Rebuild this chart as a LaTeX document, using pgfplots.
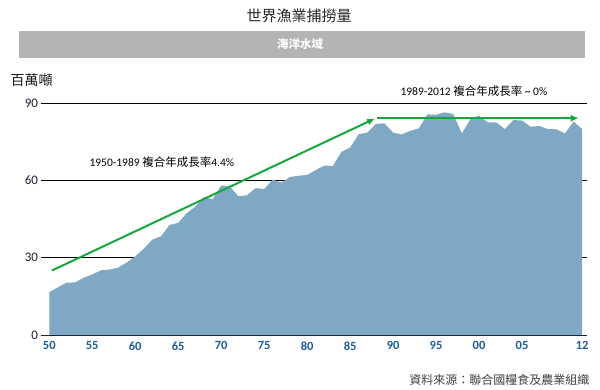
\documentclass[border=0pt]{standalone}
\usepackage{pgfplots}
\pgfplotsset{compat=1.18}
\usepackage{fontspec}
\setmainfont{Carlito}
\newfontfamily\cjk{Noto Sans CJK TC}
\usetikzlibrary{arrows.meta}
\definecolor{areablue}{HTML}{7EA8C4}
\definecolor{arrowgreen}{RGB}{20,168,60}
\definecolor{xlab}{HTML}{1F5C9E}
\definecolor{ylab}{HTML}{1C2535}
\definecolor{banner}{HTML}{B4B4B4}
\pgfplotstableread{
year value
1950 16.6
1951 18.5
1952 20.3
1953 20.4
1954 22.2
1955 23.5
1956 25.1
1957 25.4
1958 26.1
1959 28.1
1960 30.5
1961 33.5
1962 37.0
1963 38.3
1964 42.7
1965 43.5
1966 47.3
1967 49.8
1968 53.5
1969 52.6
1970 58.0
1971 57.6
1972 53.8
1973 54.2
1974 57.0
1975 56.6
1976 60.3
1977 59.1
1978 61.3
1979 61.8
1980 62.1
1981 64.0
1982 65.7
1983 65.6
1984 71.1
1985 72.7
1986 77.9
1987 78.5
1988 81.9
1989 82.1
1990 78.5
1991 77.8
1992 79.2
1993 80.2
1994 85.6
1995 85.4
1996 86.4
1997 85.7
1998 78.2
1999 83.7
2000 85.1
2001 82.5
2002 82.5
2003 79.9
2004 83.4
2005 83.2
2006 80.8
2007 81.1
2008 79.9
2009 79.8
2010 78.2
2011 82.8
2012 79.9
}\catch
\begin{document}
\begin{tikzpicture}
\path[use as bounding box] (0pt,0pt) rectangle (600pt,389pt);
% title
\node[text=black!85] at (299pt,373pt) {\cjk\fontsize{15}{17}\selectfont 世界漁業捕撈量};
\fill[banner] (18.5pt,331pt) rectangle (585pt,358pt);
\node[text=white] at (300pt,344.5pt) {\cjk\bfseries\fontsize{11.5}{13}\selectfont 海洋水域};
\node[anchor=west, text=black!90] at (7pt,309pt) {\cjk\fontsize{14}{16}\selectfont 百萬噸};
\begin{axis}[
  at={(40.5pt,54pt)}, anchor=south west,
  scale only axis, width=546.5pt, height=232pt,
  xmin=1948.98, xmax=2012.56, ymin=0, ymax=90,
  axis line style={draw=none},
  tick style={draw=none},
  ytick={0,60,90},
  extra y ticks={30},
  ymajorgrids,
  major grid style={black, line width=0.9pt},
  extra y tick style={grid style={black!55, line width=0.9pt}},
  xtick={1950,1955,1960,1965,1970,1975,1980,1985,1990,1995,2000,2005,2012},
  xticklabels={50,55,60,65,70,75,80,85,90,95,00,05,12},
  /pgf/number format/assume math mode=true,
  xticklabel style={text=xlab, font=\bfseries\fontsize{12.5}{14}\selectfont, yshift=-3pt},
  yticklabel style={text=ylab, font=\fontsize{13}{15}\selectfont, xshift=1pt},
  clip=false,
]
\addplot[fill=areablue, draw=none] table[x=year, y=value] {\catch} \closedcycle;
\addplot[ylab, line width=1pt] coordinates {(1948.98,0) (2012.56,0)};
\addplot[arrowgreen, line width=2pt, -{Latex[length=8pt,width=7pt]}] coordinates {(1950.3,25) (1987.9,84)};
\addplot[arrowgreen, line width=2pt, -{Latex[length=8pt,width=7pt]}] coordinates {(1988.1,84.1) (2011.6,84.1)};
\end{axis}
\node[anchor=west, text=black] at (86pt,227pt) {\fontsize{11.5}{13}\selectfont 1950-1989 {\cjk 複合年成長率}4.4\%};
\node[anchor=west, text=black] at (397pt,297.5pt) {\fontsize{11.5}{13}\selectfont 1989-2012 {\cjk 複合年成長率} \textasciitilde{} 0\%};
\node[anchor=east, text=black!75] at (593pt,9pt) {\cjk\fontsize{12}{14}\selectfont 資料來源：聯合國糧食及農業組織};
\end{tikzpicture}
\end{document}
